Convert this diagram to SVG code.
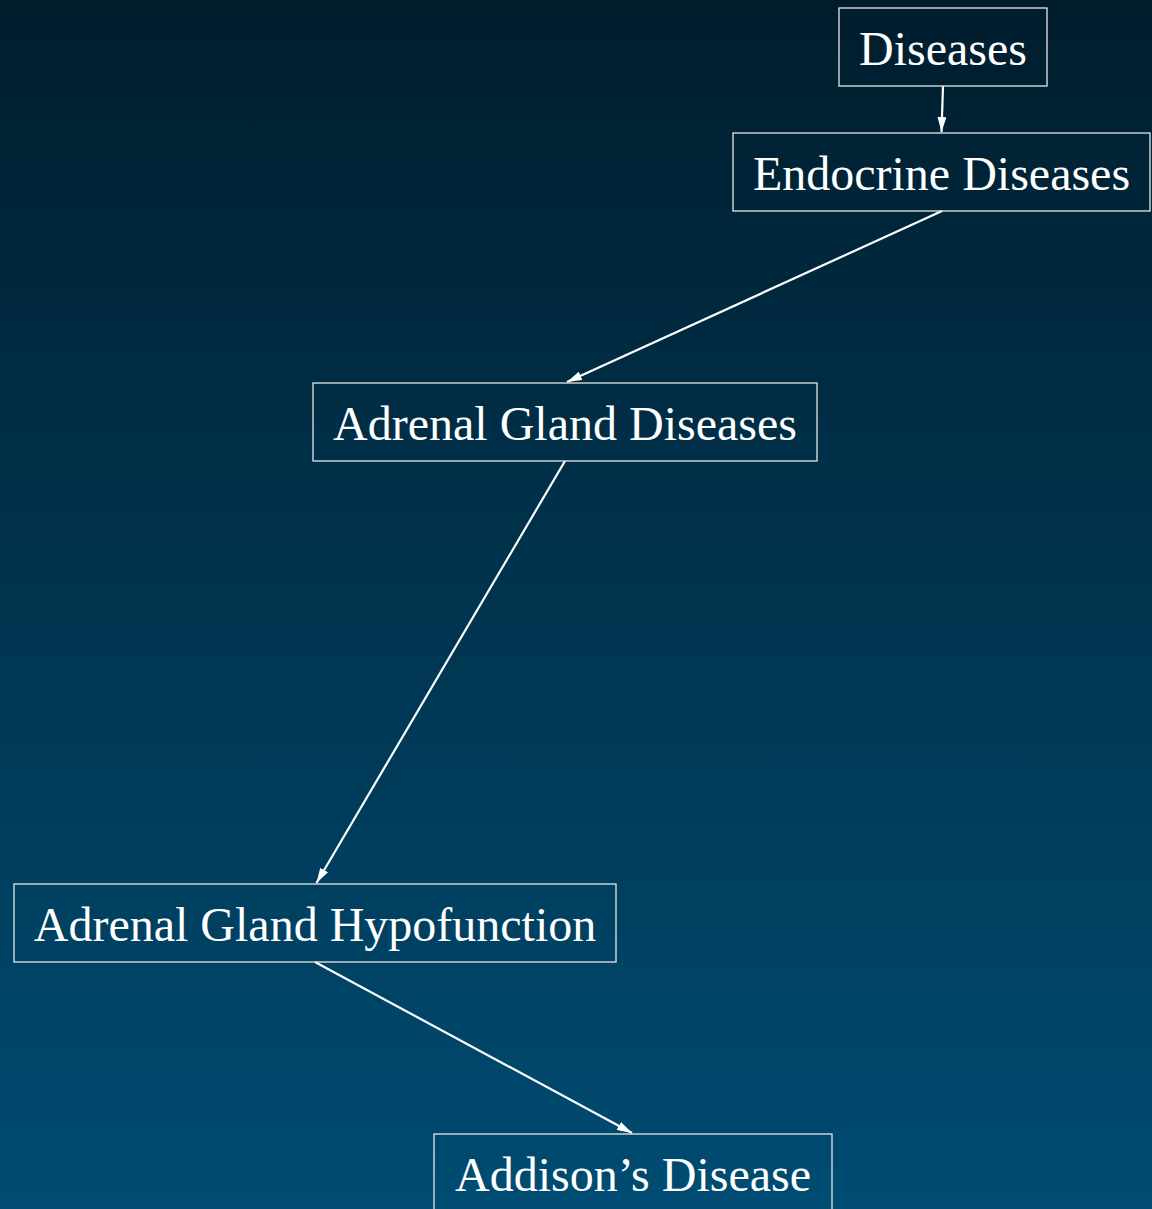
<svg xmlns="http://www.w3.org/2000/svg" width="1152" height="1209" viewBox="0 0 1152 1209">
<defs>
<linearGradient id="bg" x1="0" y1="0" x2="0" y2="1">
<stop offset="0" stop-color="#001d2d"/>
<stop offset="1" stop-color="#004c72"/>
</linearGradient>
<marker id="ah" viewBox="0 0 15 9" refX="15" refY="4.5" markerWidth="15" markerHeight="9" markerUnits="userSpaceOnUse" orient="auto">
<path d="M0,0 L15,4.5 L0,9 z" fill="#ffffff"/>
</marker>
<style>
.box{fill:none;stroke:#e6e6e6;stroke-width:1.3}
.lbl{font-family:"Liberation Serif","Times New Roman",serif;font-size:48px;fill:#ffffff;text-anchor:middle}
.edge{stroke:#ffffff;stroke-width:2.2;fill:none;marker-end:url(#ah)}
</style>
</defs>
<rect x="0" y="0" width="1152" height="1209" fill="url(#bg)"/>
<g id="connectors">
<path class="edge" d="M943,86 L941.5,132"/>
<path class="edge" d="M942,211 L567,382"/>
<path class="edge" d="M565,461 L316.5,883"/>
<path class="edge" d="M315,962 L632,1133"/>
</g>
<g id="n1"><rect class="box" x="839" y="8" width="208" height="78"/><text class="lbl" x="943" y="65">Diseases</text></g>
<g id="n2"><rect class="box" x="733" y="133" width="417" height="78"/><text class="lbl" x="941.5" y="190">Endocrine Diseases</text></g>
<g id="n3"><rect class="box" x="313" y="383" width="504" height="78"/><text class="lbl" x="565" y="440">Adrenal Gland Diseases</text></g>
<g id="n4"><rect class="box" x="14" y="884" width="602" height="78"/><text class="lbl" x="315" y="941">Adrenal Gland Hypofunction</text></g>
<g id="n5"><rect class="box" x="434" y="1134" width="398" height="78"/><text class="lbl" x="633" y="1191">Addison’s Disease</text></g>
</svg>
